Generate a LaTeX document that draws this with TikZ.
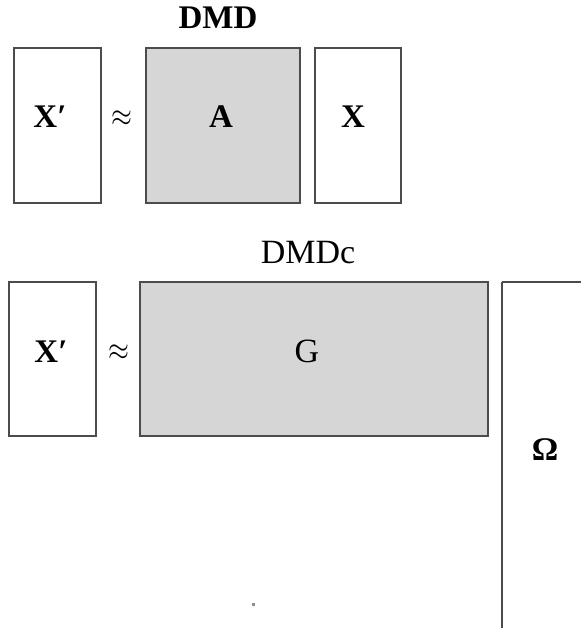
\documentclass[tikz,border=0pt]{standalone}
\usepackage{graphicx}
\usepackage{fontspec}
\setmainfont{Liberation Serif}
\newcommand{\bigapprox}{\scalebox{1.08}[1.3]{$\approx$}}
\begin{document}
\begin{tikzpicture}[x=1pt,y=-1pt,
  mat/.style={draw=black!70,line width=1.6pt},
  gmat/.style={mat,fill=black!16},
  lbl/.style={anchor=base,inner sep=0pt,font=\fontsize{33}{33}\selectfont\bfseries},
  rlbl/.style={anchor=base,inner sep=0pt,font=\fontsize{34}{34}\selectfont},
  apx/.style={inner sep=0pt,font=\fontsize{24.88}{26}\selectfont}]
\useasboundingbox (0,0) rectangle (580,628);
% top row
\draw[mat] (14,48) rectangle (101,203);
\draw[gmat] (146,48) rectangle (300,203);
\draw[mat] (315,48) rectangle (401,203);
\node[lbl] (dmd) at (218,29) {DMD};
\node[lbl] (xp1) at (50,128) {X′};
\node[apx] (ap1) at (122,119) {\bigapprox};
\node[lbl] (a) at (221,128) {A};
\node[lbl] (x) at (353,128) {X};
% bottom row
\draw[mat] (9,282) rectangle (96,436);
\draw[gmat] (140,282) rectangle (488,436);
\draw[mat] (502,282) -- (502,640);
\draw[mat] (502,282) -- (590,282);
\node[rlbl] (dmdc) at (308,263) {DMDc};
\node[lbl] (xp2) at (51,362) {X′};
\node[apx] (ap2) at (119,353) {\bigapprox};
\node[rlbl] (g) at (307,362) {G};
\node[lbl] (om) at (545,460) {Ω};
\fill[black!45] (252,603) rectangle (254.5,605.5);
\end{tikzpicture}
\end{document}
